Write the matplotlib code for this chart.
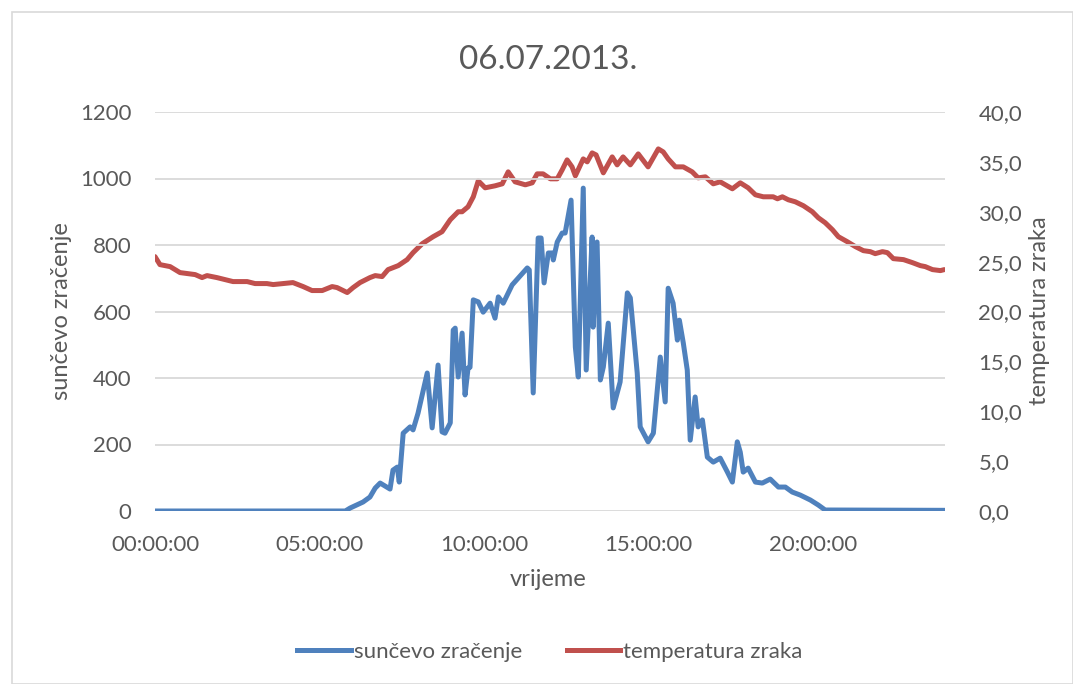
import matplotlib
matplotlib.use("Agg")
import matplotlib.pyplot as plt
from matplotlib.lines import Line2D
from matplotlib.patches import Rectangle

title = "06.07.2013."
x_label = "vrijeme"
y_left_label = "sunčevo zračenje"
y_right_label = "temperatura zraka"
series_names = ["sunčevo zračenje", "temperatura zraka"]

x_ticks = [0, 5, 10, 15, 20]
x_tick_labels = ["00:00:00", "05:00:00", "10:00:00", "15:00:00", "20:00:00"]
left_ticks = [0, 200, 400, 600, 800, 1000, 1200]
right_ticks = [0, 5, 10, 15, 20, 25, 30, 35, 40]

# solar radiation (hours, W/m2)
rad_hours = [0.00, 5.78, 5.93, 6.32, 6.53, 6.69, 6.84, 7.14, 7.23, 7.36, 7.42, 7.54,
             7.75, 7.84, 7.99, 8.27, 8.42, 8.60, 8.72, 8.81, 8.97, 9.06, 9.12, 9.21,
             9.33, 9.42, 9.51, 9.57, 9.67, 9.82, 9.97, 10.18, 10.33, 10.43, 10.58,
             10.85, 11.31, 11.37, 11.49, 11.64, 11.73, 11.82, 11.95, 12.07, 12.10,
             12.22, 12.37, 12.46, 12.64, 12.77, 12.86, 13.01, 13.10, 13.28, 13.31,
             13.43, 13.53, 13.62, 13.77, 13.92, 14.13, 14.35, 14.44, 14.65, 14.74,
             14.98, 15.14, 15.35, 15.50, 15.59, 15.74, 15.87, 15.93, 16.05, 16.17,
             16.26, 16.41, 16.50, 16.63, 16.78, 16.96, 17.17, 17.39, 17.54, 17.69,
             17.78, 17.87, 18.02, 18.24, 18.45, 18.69, 18.94, 19.15, 19.36, 19.60,
             19.91, 20.15, 20.36, 24.00]
rad_values = [0, 0, 9, 27, 42, 69, 84, 66, 123, 132, 87, 234,
              253, 244, 294, 415, 250, 439, 238, 234, 265, 544, 550, 403,
              535, 349, 430, 432, 635, 629, 598, 625, 580, 644, 625,
              680, 731, 725, 355, 821, 821, 686, 776, 776, 755,
              809, 836, 836, 935, 493, 403, 971, 424, 824, 553,
              809, 394, 433, 565, 310, 388, 656, 641, 415, 253,
              208, 234, 463, 328, 670, 625, 514, 574, 505, 424,
              213, 343, 253, 274, 162, 147, 159, 117, 87, 208,
              177, 117, 129, 87, 84, 96, 72, 72, 57, 48,
              33, 18, 3, 2]

# air temperature (hours, deg C)
temp_hours = [0.00, 0.15, 0.46, 0.76, 1.22, 1.43, 1.58, 1.88, 2.37, 2.80, 3.04, 3.40,
              3.59, 4.19, 4.50, 4.77, 5.08, 5.38, 5.53, 5.84, 6.02, 6.23, 6.53, 6.69,
              6.90, 7.08, 7.39, 7.66, 7.84, 8.12, 8.45, 8.72, 8.97, 9.21, 9.33, 9.51,
              9.67, 9.82, 10.03, 10.33, 10.55, 10.73, 10.94, 11.25, 11.46, 11.61, 11.79,
              12.01, 12.22, 12.37, 12.52, 12.67, 12.77, 13.01, 13.13, 13.28, 13.40,
              13.62, 13.89, 14.04, 14.22, 14.44, 14.68, 14.98, 15.29, 15.44, 15.59,
              15.81, 16.05, 16.32, 16.50, 16.72, 16.96, 17.17, 17.54, 17.78, 18.02,
              18.24, 18.48, 18.78, 18.91, 19.06, 19.24, 19.45, 19.70, 19.97, 20.15,
              20.36, 20.58, 20.76, 21.03, 21.28, 21.52, 21.73, 21.88, 22.10, 22.25,
              22.43, 22.74, 23.01, 23.25, 23.40, 23.62, 23.86, 23.98]
temp_values = [25.5, 24.7, 24.5, 23.9, 23.7, 23.4, 23.6, 23.4, 23.0, 23.0, 22.8, 22.8,
               22.7, 22.9, 22.5, 22.1, 22.1, 22.5, 22.4, 21.9, 22.4, 22.9, 23.4, 23.6,
               23.5, 24.2, 24.6, 25.2, 25.9, 26.8, 27.5, 28.0, 29.2, 30.0, 30.0, 30.5,
               31.5, 33.1, 32.4, 32.6, 32.8, 34.0, 33.0, 32.7, 32.9, 33.8, 33.8,
               33.3, 33.3, 34.2, 35.2, 34.5, 33.6, 35.3, 35.0, 35.9, 35.7,
               33.9, 35.5, 34.7, 35.5, 34.7, 35.8, 34.5, 36.3, 36.0, 35.3,
               34.5, 34.5, 34.0, 33.4, 33.5, 32.8, 33.0, 32.3, 32.9, 32.4,
               31.7, 31.5, 31.5, 31.3, 31.5, 31.2, 31.0, 30.6, 30.0, 29.4,
               28.9, 28.2, 27.5, 27.0, 26.5, 26.1, 26.0, 25.8, 26.0, 25.9,
               25.3, 25.2, 24.9, 24.6, 24.5, 24.2, 24.1, 24.2]

BLUE = "#4f81bd"
RED = "#c0504d"
TXT = "#595959"
GRID = "#d9d9d9"
FONT = ["Lato", "DejaVu Sans"]
plt.rcParams["font.family"] = FONT
FS = 16
LW = 3.6

W, H = 1073, 684
fig = plt.figure(figsize=(W / 100, H / 100), dpi=100)
fig.patches.append(Rectangle((12 / W, 0), 1 - 12 / W, 1 - 12 / H, transform=fig.transFigure,
                             fill=False, edgecolor=GRID, lw=1.2))

ax = fig.add_axes([155 / W, 1 - 511 / H, (945 - 155) / W, (511 - 112) / H])
ax2 = ax.twinx()

ax.plot(rad_hours, rad_values, color=BLUE, lw=LW, solid_joinstyle="round",
        solid_capstyle="round", zorder=3)
ax2.plot(temp_hours, temp_values, color=RED, lw=LW, solid_joinstyle="round",
         solid_capstyle="round", zorder=3)

ax.set_xlim(0, 24)
ax.set_ylim(0, 1200)
ax2.set_ylim(0, 40)
ax.set_xticks(x_ticks)
ax.set_xticklabels(x_tick_labels)
ax.set_yticks(left_ticks)
ax.set_yticklabels([str(v) for v in left_ticks])
ax2.set_yticks(right_ticks)
ax2.set_yticklabels([f"{v:.1f}".replace(".", ",") for v in right_ticks])

for a in (ax, ax2):
    for s in a.spines.values():
        s.set_visible(False)
    a.tick_params(length=0, labelsize=FS, colors=TXT)
ax.tick_params(axis="x", pad=17)
ax.tick_params(axis="y", pad=17)
ax2.tick_params(axis="y", pad=24)
ax.grid(axis="y", color=GRID, lw=1.3)
ax.set_axisbelow(True)
ax.set_zorder(ax2.get_zorder() + 1)
ax.patch.set_visible(False)

fig.text(548 / W, 1 - 60 / H, title, ha="center", va="center", fontsize=24, color=TXT)
fig.text(548 / W, 1 - 580 / H, x_label, ha="center", va="center", fontsize=17, color=TXT)
fig.text(62 / W, 1 - 311 / H, y_left_label, ha="center", va="center", rotation=90,
         fontsize=17, color=TXT)
fig.text(1040 / W, 1 - 311 / H, y_right_label, ha="center", va="center", rotation=90,
         fontsize=17, color=TXT)

handles = [Line2D([], [], color=BLUE, lw=LW), Line2D([], [], color=RED, lw=LW)]
fig.legend(handles, series_names, loc="center", bbox_to_anchor=(550 / W, 1 - 652 / H),
           ncol=2, frameon=False, fontsize=FS, labelcolor=TXT, handlelength=2.4,
           handletextpad=0.15, columnspacing=2.0)

fig.savefig("out.png", dpi=100)
